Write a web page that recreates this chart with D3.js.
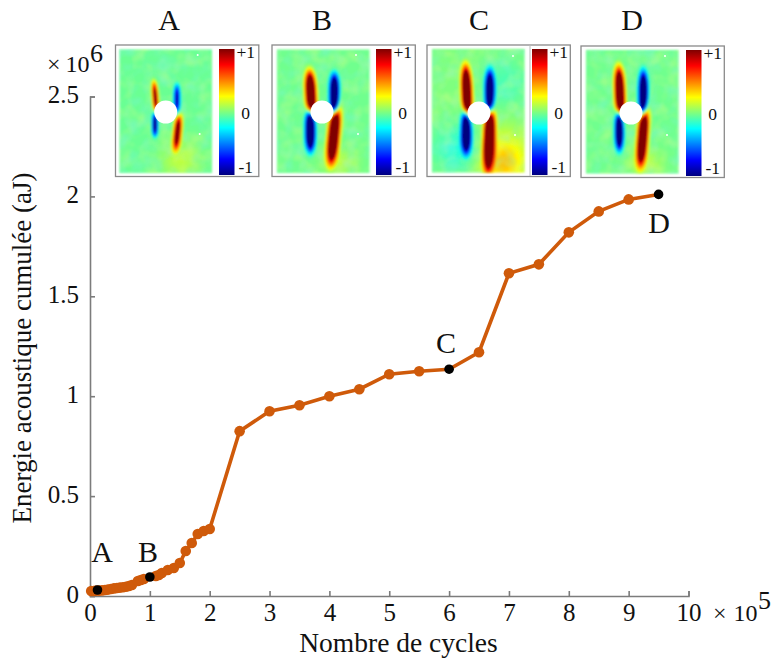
<!DOCTYPE html>
<html><head><meta charset="utf-8">
<script src="https://cdn.jsdelivr.net/npm/d3@7"></script>
<style>html,body{margin:0;background:#fff}svg{display:block}text{font-family:"Liberation Serif",serif;fill:#111}</style>
</head><body><svg id="c" width="771" height="658"></svg>
<script>
const cycles=[0.02,0.06,0.1,0.15,0.2,0.25,0.3,0.35,0.4,0.45,0.5,0.55,0.6,0.65,0.7,0.8,0.85,0.9,1.1,1.15,1.2,1.3,1.4,1.5,1.6,1.7,1.8,1.9,2,2.5,3,3.5,4,4.5,5,5.5,6.5,7,7.5,8,8.5,9];
const energy=[0.025,0.025,0.027,0.027,0.028,0.03,0.032,0.035,0.038,0.04,0.042,0.044,0.046,0.05,0.055,0.075,0.08,0.085,0.1,0.105,0.115,0.13,0.14,0.165,0.225,0.265,0.31,0.325,0.335,0.825,0.925,0.955,1.0,1.035,1.11,1.125,1.22,1.615,1.66,1.82,1.925,1.985];
const lineCycles=[0.02,0.125,0.25,0.5,0.7,0.8,1,1.1,1.2,1.3,1.4,1.5,1.6,1.7,1.8,1.9,2,2.5,3,3.5,4,4.5,5,5.5,6,6.5,7,7.5,8,8.5,9,9.5];
const lineEnergy=[0.025,0.028,0.03,0.042,0.055,0.075,0.095,0.1,0.115,0.13,0.14,0.165,0.225,0.265,0.31,0.325,0.335,0.825,0.925,0.955,1.0,1.035,1.11,1.125,1.135,1.22,1.615,1.66,1.82,1.925,1.985,2.01];
const markedNames=["A","B","C","D"];
const markedCycles=[0.125,1,6,9.5];
const markedEnergy=[0.03,0.095,1.135,2.01];
const markedLabelX=[102,148,446,659];
const markedLabelY=[562,562,353,233];
const xTicks=[0,1,2,3,4,5,6,7,8,9,10];
const yTicks=[0,0.5,1,1.5,2,2.5];
const xTitle="Nombre de cycles", yTitle="Energie acoustique cumulée (aJ)";
const barLabels=["+1","0","-1"];
const jetStops=["#00007f","#0000ff","#007fff","#00ffff","#7fff7f","#ffff00","#ff7f00","#ff0000","#7f0000"];
const insetNames=["A","B","C","D"];
const insetTitleX=[169,322,479,632];
const insetFrameLeft=[115.5,272,427,581], insetFrameTop=[45,45,45,46];
const insetHeatLeft=[119.5,277,432,586], insetHeatTop=[49.5,49.5,49,50];
const insetBarLeft=[219,376,532,686];
const insetHole=[[165.7,112],[322,112],[479,113],[631,113]];
// lobes: dx, dy from hole, sigma-x, half-length, amplitude, shear
const lobesA=[[-10.7,-15,2,17,1.15,0.08],[11,-13,2.2,16,-0.9,0],[-11,12,1.9,13,-1.1,0],[11.5,20,2.6,19,1.3,-0.1],[14,48,14,14,0.16,0]];
const lobesB=[[-11.5,-18,3.3,24,2.1,0.05],[12,-17,3,22,-1.9,0],[-12,17,3.1,23,-1.9,0],[11.5,22,3.5,30,2.15,-0.1],[17,50,12,10,0.15,0]];
const lobesC=[[-12.5,-20,3.1,28,2.2,0.04],[10.5,-19,3,25,-1.8,0],[-13,17,3.1,24,-1.9,0],[10,24,3.3,34,2.3,-0.04],[24,48,17,20,0.38,0],[-20,35,18,16,-0.18,0],[26,-30,16,18,-0.1,0]];
const lobesD=[[-11.5,-20,3.1,27,2.1,0.04],[12,-18,2.9,25,-1.85,0],[-12,16,2.7,22,-1.75,0],[11.5,22,3.2,31,2.15,-0.08],[14,50,12,10,0.15,0]];
const insetLobes=[lobesA,lobesB,lobesC,lobesD];
const insetBase=[-0.04,-0.03,0.0,-0.03];
const speckDx=[34,36],speckDy=[-57,22];

const svg=d3.select("#c"), orange="#cf5a0a", axisGrey="#7c7c7c";
const x=d3.scaleLinear().domain([0,10]).range([90,688.5]);
const y=d3.scaleLinear().domain([0,2.5]).range([596,96.5]);
const colour=d3.scaleLinear().domain(d3.range(jetStops.length).map(i=>-1+2*i/(jetStops.length-1))).range(jetStops).clamp(true);

// axes
const gx=svg.append("g").attr("transform","translate(0,596)").call(d3.axisBottom(x).tickValues(xTicks).tickSize(-5).tickFormat(d3.format("d")));
const gy=svg.append("g").attr("transform","translate(90,0)").call(d3.axisLeft(y).tickValues(yTicks).tickSize(-5).tickFormat(d=>d));
[gx,gy].forEach(g=>{g.selectAll("path,line").attr("stroke",axisGrey).attr("stroke-width",1.6);
 g.selectAll("text").attr("font-family","Liberation Serif").attr("font-size",25).attr("fill","#111");});
gx.selectAll("text").attr("dy",0).attr("y",25);
gy.selectAll("text").attr("x",-11).attr("dy",6);
svg.append("text").attr("x",398.5).attr("y",652).attr("text-anchor","middle").attr("font-size",27.5).text(xTitle);
svg.append("text").attr("transform","translate(31,348) rotate(-90)").attr("text-anchor","middle").attr("font-size",27).text(yTitle);
svg.append("text").attr("x",47).attr("y",72).attr("font-size",24).text("×");
svg.append("text").attr("x",65.5).attr("y",72).attr("font-size",24).text("10");
svg.append("text").attr("x",90).attr("y",62).attr("font-size",26).text("6");
svg.append("text").attr("x",713).attr("y",621).attr("font-size",24).text("×");
svg.append("text").attr("x",733.5).attr("y",621).attr("font-size",24).text("10");
svg.append("text").attr("x",758).attr("y",609).attr("font-size",26).text("5");

// curve
svg.append("path").datum(d3.zip(lineCycles,lineEnergy)).attr("fill","none").attr("stroke",orange).attr("stroke-width",3.6)
 .attr("d",d3.line().x(d=>x(d[0])).y(d=>y(d[1])));
svg.append("g").selectAll("circle").data(d3.zip(cycles,energy)).join("circle")
 .attr("cx",d=>x(d[0])).attr("cy",d=>y(d[1])).attr("r",5.3).attr("fill",orange);
svg.append("g").selectAll("circle").data(markedCycles).join("circle")
 .attr("cx",d=>x(d)).attr("cy",(d,i)=>y(markedEnergy[i])).attr("r",4.8).attr("fill","#000");
svg.append("g").selectAll("text").data(markedNames).join("text")
 .attr("x",(d,i)=>markedLabelX[i]).attr("y",(d,i)=>markedLabelY[i]).attr("text-anchor","middle")
 .attr("font-size",30).text(d=>d);

// insets
const defs=svg.append("defs");
const grad=defs.append("linearGradient").attr("id","jet").attr("x1",0).attr("x2",0).attr("y1",1).attr("y2",0);
jetStops.forEach((c,i)=>grad.append("stop").attr("offset",i/(jetStops.length-1)).attr("stop-color",c));
defs.append("filter").attr("id","soft").append("feGaussianBlur").attr("stdDeviation",0.8);
const mott=defs.append("filter").attr("id","mott").attr("x",0).attr("y",0).attr("width",1).attr("height",1);
mott.append("feTurbulence").attr("type","fractalNoise").attr("baseFrequency",0.075).attr("numOctaves",2).attr("seed",4);
mott.append("feColorMatrix").attr("values","0 0 0 0 0.8  0 0 0 0 1  0 0 0 0 0.25  2.4 0 0 0 -0.95");
const mott2=defs.append("filter").attr("id","mott2").attr("x",0).attr("y",0).attr("width",1).attr("height",1);
mott2.append("feTurbulence").attr("type","fractalNoise").attr("baseFrequency",0.07).attr("numOctaves",2).attr("seed",11);
mott2.append("feColorMatrix").attr("values","0 0 0 0 0.2  0 0 0 0 0.9  0 0 0 0 0.85  2.4 0 0 0 -0.95");
const W=92.5,H=123.5,S=2;
insetNames.forEach((nm,k)=>{
 const g=svg.append("g");
 const fl=insetFrameLeft[k], ft=insetFrameTop[k], hl=insetHeatLeft[k], ht=insetHeatTop[k], bl=insetBarLeft[k];
 g.append("rect").attr("x",fl).attr("y",ft).attr("width",143.3).attr("height",131.5).attr("fill","#fff").attr("stroke","#8a8a8a").attr("stroke-width",1.3);
 const bg=document.createElement("canvas"), fg=document.createElement("canvas");
 bg.width=fg.width=W*S; bg.height=fg.height=H*S;
 const bc=bg.getContext("2d"), fc=fg.getContext("2d");
 const [hx,hy]=insetHole[k];
 for(let py=0;py<bg.height;py++)for(let px=0;px<bg.width;px++){
  const X=hl+px/S-hx,Y=ht+py/S-hy;
  let broad=insetBase[k], narrow=0;
  insetLobes[k].forEach(([dx,dy,sx,sy,a,sh])=>{
   const u=(X-dx-sh*(Y-dy))/sx,w=Math.abs(Y-dy)/sy;
   if(sx>=10) broad+=a*Math.exp(-0.5*(u*u+((Y-dy)/sy)**2));
   else narrow+=a*Math.exp(-0.5*u*u-w*w*w*1.6);
  });
  bc.fillStyle=colour(broad);bc.fillRect(px,py,1,1);
  const c=d3.rgb(colour(broad+narrow));
  c.opacity=Math.min(1,Math.abs(narrow)/0.2);
  fc.fillStyle=c.toString();fc.fillRect(px,py,1,1);
 }
 g.append("image").attr("x",hl).attr("y",ht).attr("width",W).attr("height",H).attr("href",bg.toDataURL()).attr("filter","url(#soft)");
 ["mott","mott2"].forEach(f=>g.append("rect").attr("x",hl).attr("y",ht).attr("width",W).attr("height",H).attr("filter",`url(#${f})`).attr("opacity",0.3));
 g.append("image").attr("x",hl).attr("y",ht).attr("width",W).attr("height",H).attr("href",fg.toDataURL()).attr("filter","url(#soft)");
 g.append("circle").attr("cx",hx).attr("cy",hy).attr("r",11.5).attr("fill","#fff");
 speckDx.forEach((d,i)=>g.append("circle").attr("cx",hx+d-(k===0?2:0)).attr("cy",hy+speckDy[i]).attr("r",1).attr("fill","#fff"));
 if(k===2) g.append("line").attr("x1",530).attr("x2",530).attr("y1",ft).attr("y2",ft+131).attr("stroke","#bbb");
 g.append("rect").attr("x",bl).attr("y",ft+4).attr("width",15.5).attr("height",126).attr("fill","url(#jet)");
 barLabels.forEach((t,i)=>g.append("text").attr("x",bl+26.7).attr("y",ft+[13,74,128][i]).attr("text-anchor","middle").attr("font-size",17.5).text(t));
 svg.append("text").attr("x",insetTitleX[k]).attr("y",30).attr("text-anchor","middle").attr("font-size",30).text(nm);
});
</script></body></html>
